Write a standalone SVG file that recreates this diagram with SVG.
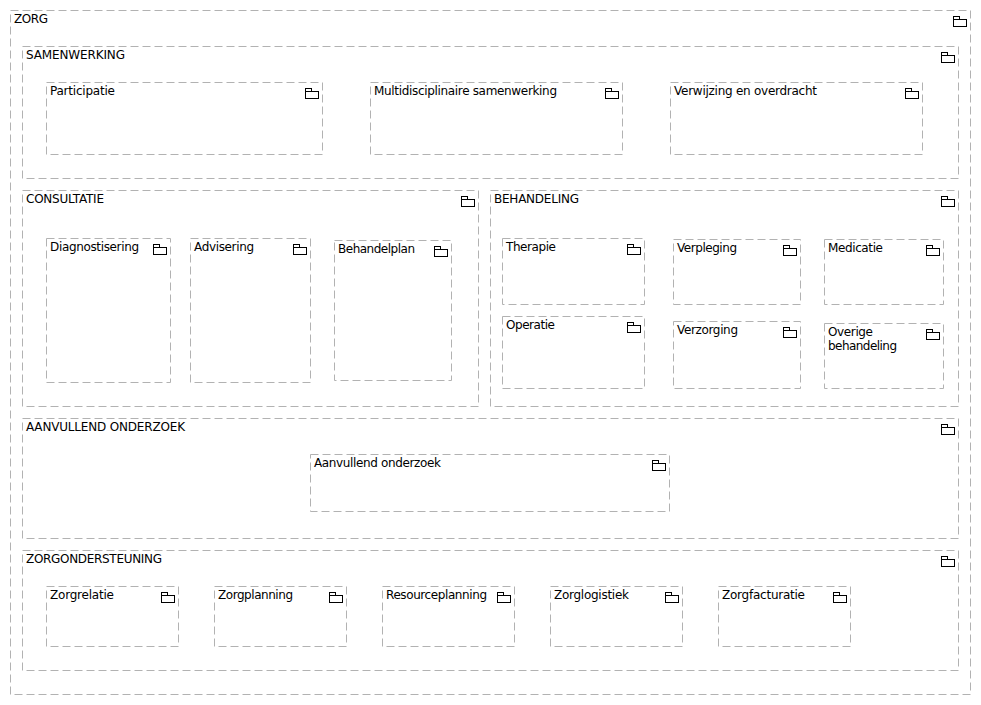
<svg xmlns="http://www.w3.org/2000/svg" width="981" height="705" viewBox="0 0 981 705">
<style>
rect.g{fill:#fff;stroke:#b2b2b2;stroke-width:1;stroke-dasharray:8 4}
.i{fill:#fff;stroke:#000;stroke-width:1}
text{font-family:"DejaVu Sans",sans-serif;font-size:12px;fill:#000}
</style>
<defs><g id="ic"><rect class="i" x="0" y="3" width="13" height="7"/><rect class="i" x="0" y="0" width="6" height="3"/></g></defs>
<rect width="981" height="705" fill="#fff"/>
<g id="zorg"><rect class="g" x="10.5" y="10.5" width="960" height="684"/><use href="#ic" x="953.5" y="16.5"/><text x="14" y="23" textLength="34">ZORG</text></g>
<g id="samenwerking"><rect class="g" x="22.5" y="46.5" width="936" height="132"/><use href="#ic" x="941.5" y="52.5"/><text x="26" y="59" textLength="99">SAMENWERKING</text></g>
<g id="participatie"><rect class="g" x="46.5" y="82.5" width="276" height="72"/><use href="#ic" x="305.5" y="88.5"/><text x="50" y="95" textLength="65">Participatie</text></g>
<g id="multi"><rect class="g" x="370.5" y="82.5" width="252" height="72"/><use href="#ic" x="605.5" y="88.5"/><text x="374" y="95" textLength="183">Multidisciplinaire samenwerking</text></g>
<g id="verwijzing"><rect class="g" x="670.5" y="82.5" width="252" height="72"/><use href="#ic" x="905.5" y="88.5"/><text x="674" y="95" textLength="143">Verwijzing en overdracht</text></g>
<g id="consultatie"><rect class="g" x="22.5" y="190.5" width="456" height="216"/><use href="#ic" x="461.5" y="196.5"/><text x="26" y="203" textLength="78">CONSULTATIE</text></g>
<g id="diagnostisering"><rect class="g" x="46.5" y="238.5" width="124" height="144"/><use href="#ic" x="153.5" y="244.5"/><text x="50" y="251" textLength="89">Diagnostisering</text></g>
<g id="advisering"><rect class="g" x="190.5" y="238.5" width="120" height="144"/><use href="#ic" x="293.5" y="244.5"/><text x="194" y="251" textLength="60">Advisering</text></g>
<g id="behandelplan"><rect class="g" x="334.5" y="240.5" width="117" height="140"/><use href="#ic" x="434.5" y="246.5"/><text x="338" y="253" textLength="77">Behandelplan</text></g>
<g id="behandeling"><rect class="g" x="490.5" y="190.5" width="468" height="216"/><use href="#ic" x="941.5" y="196.5"/><text x="494" y="203" textLength="85">BEHANDELING</text></g>
<g id="therapie"><rect class="g" x="502.5" y="238.5" width="142" height="66"/><use href="#ic" x="627.5" y="244.5"/><text x="506" y="251" textLength="50">Therapie</text></g>
<g id="operatie"><rect class="g" x="502.5" y="316.5" width="142" height="72"/><use href="#ic" x="627.5" y="322.5"/><text x="506" y="329" textLength="49">Operatie</text></g>
<g id="verpleging"><rect class="g" x="673.5" y="239.5" width="127" height="65"/><use href="#ic" x="783.5" y="245.5"/><text x="677" y="252" textLength="60">Verpleging</text></g>
<g id="verzorging"><rect class="g" x="673.5" y="321.5" width="127" height="67"/><use href="#ic" x="783.5" y="327.5"/><text x="677" y="334" textLength="61">Verzorging</text></g>
<g id="medicatie"><rect class="g" x="824.5" y="239.5" width="119" height="65"/><use href="#ic" x="926.5" y="245.5"/><text x="828" y="252" textLength="55">Medicatie</text></g>
<g id="overige"><rect class="g" x="824.5" y="323.5" width="119" height="65"/><use href="#ic" x="926.5" y="329.5"/><text x="828" y="336" textLength="45">Overige</text><text x="828" y="350" textLength="69">behandeling</text></g>
<g id="aanvullend"><rect class="g" x="22.5" y="418.5" width="936" height="120"/><use href="#ic" x="941.5" y="424.5"/><text x="26" y="431" textLength="159">AANVULLEND ONDERZOEK</text></g>
<g id="aanvullend2"><rect class="g" x="310.5" y="454.5" width="359" height="57"/><use href="#ic" x="652.5" y="460.5"/><text x="314" y="467" textLength="127">Aanvullend onderzoek</text></g>
<g id="zorgondersteuning"><rect class="g" x="22.5" y="550.5" width="936" height="120"/><use href="#ic" x="941.5" y="556.5"/><text x="26" y="563" textLength="136">ZORGONDERSTEUNING</text></g>
<g id="zorgrelatie"><rect class="g" x="46.5" y="586.5" width="132" height="60"/><use href="#ic" x="161.5" y="592.5"/><text x="50" y="599" textLength="64">Zorgrelatie</text></g>
<g id="zorgplanning"><rect class="g" x="214.5" y="586.5" width="132" height="60"/><use href="#ic" x="329.5" y="592.5"/><text x="218" y="599" textLength="75">Zorgplanning</text></g>
<g id="resourceplanning"><rect class="g" x="382.5" y="586.5" width="132" height="60"/><use href="#ic" x="497.5" y="592.5"/><text x="386" y="599" textLength="101">Resourceplanning</text></g>
<g id="zorglogistiek"><rect class="g" x="550.5" y="586.5" width="132" height="60"/><use href="#ic" x="665.5" y="592.5"/><text x="554" y="599" textLength="75">Zorglogistiek</text></g>
<g id="zorgfacturatie"><rect class="g" x="718.5" y="586.5" width="132" height="60"/><use href="#ic" x="833.5" y="592.5"/><text x="722" y="599" textLength="83">Zorgfacturatie</text></g>
<g id="connectors"></g>
</svg>
